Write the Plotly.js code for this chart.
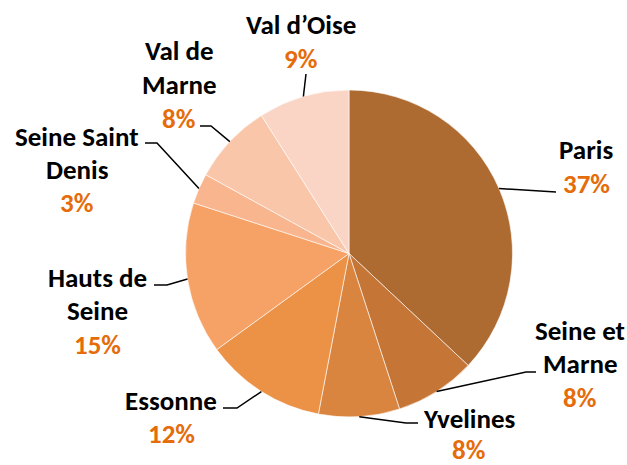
<!DOCTYPE html>
<html>
<head>
<meta charset="utf-8">
<script src="https://cdn.plot.ly/plotly-3.0.1.min.js"></script>
<style>html,body{margin:0;padding:0;background:#fff;}#chart{width:627px;height:465px;}</style>
</head>
<body>
<div id="chart"></div>
<script>
// ---- data ----
const categories = ['Paris', 'Seine et Marne', 'Yvelines', 'Essonne', 'Hauts de Seine', 'Seine Saint Denis', 'Val de Marne', "Val d\u2019Oise"];
const values = [37, 8, 8, 12, 15, 3, 8, 9];

// ---- style / layout ----
const sliceColors = ['#AD6A31', '#C57637', '#D9843F', '#EC9246', '#F6A266', '#F8B58E', '#F9C6AA', '#FAD5C6'];
const W = 627, H = 465;
const CX = 349, CY = 253.5, R = 163.5;              // pie geometry (px)
const wrapAfter = [0, 2, 0, 0, 2, 2, 2, 0];          // words on first line (0 = no wrap)
const labelPos = [[586,150],[580,330],[469,418],[171,400],[97,277],[77,136],[179,51],[301,25]];
const labelGap = [33.5, 33.5, 31, 33.5, 33.5, 33.5, 33.5, 33.5];
const leaderPts = [
  [[556,192]],
  [[526,372],[536,372]],
  [[406,423],[418,423]],
  [[237,408],[223,408]],
  [[167,285],[154,285]],
  [[157,143],[145,143]],
  [[211,126],[200,126]],
  [[306,74]]
];
const FONT = 'Carlito, Lato, sans-serif';
const FSIZE = 27;
const nameColor = '#000000', pctColor = '#E46C0A';

const px = x => x / W;
const py = y => 1 - y / H;

const total = values.reduce((a, b) => a + b, 0);
const annotations = [];
const shapes = [];
let cum = 0;
categories.forEach((name, i) => {
  const mid = (cum + values[i] / 2) / total * 2 * Math.PI;
  cum += values[i];
  const ax = CX + R * Math.sin(mid), ay = CY - R * Math.cos(mid);
  // leader line
  let d = 'M' + px(ax) + ',' + py(ay);
  leaderPts[i].forEach(p => { d += ' L' + px(p[0]) + ',' + py(p[1]); });
  shapes.push({type: 'path', xref: 'paper', yref: 'paper', path: d, line: {color: '#000', width: 1.5}});
  // label lines
  const words = name.split(' ');
  const lines = wrapAfter[i] ? [words.slice(0, wrapAfter[i]).join(' '), words.slice(wrapAfter[i]).join(' ')] : [name];
  const pct = Math.round(values[i] / total * 100) + '%';
  const all = lines.map(t => ({t, c: nameColor})).concat([{t: pct, c: pctColor}]);
  all.forEach((ln, k) => {
    annotations.push({
      xref: 'paper', yref: 'paper', x: px(labelPos[i][0]), y: py(labelPos[i][1] + k * labelGap[i]),
      xanchor: 'center', yanchor: 'middle', showarrow: false, text: ln.t,
      borderpad: 0,
      font: {family: FONT, size: FSIZE, color: ln.c, weight: 'bold'}
    });
  });
});

const trace = {
  type: 'pie',
  labels: categories,
  values: values,
  sort: false,
  direction: 'clockwise',
  rotation: 0,
  textinfo: 'none',
  hoverinfo: 'label+percent',
  marker: {colors: sliceColors, line: {color: '#ffffff', width: 0.6}},
  domain: {x: [(CX - R) / W, (CX + R) / W], y: [1 - (CY + R) / H, 1 - (CY - R) / H]},
  showlegend: false
};

Plotly.newPlot('chart', [trace], {
  width: W, height: H,
  margin: {l: 0, r: 0, t: 0, b: 0},
  paper_bgcolor: '#ffffff',
  showlegend: false,
  annotations: annotations,
  shapes: shapes
}, {displayModeBar: false, staticPlot: true});
</script>
</body>
</html>
